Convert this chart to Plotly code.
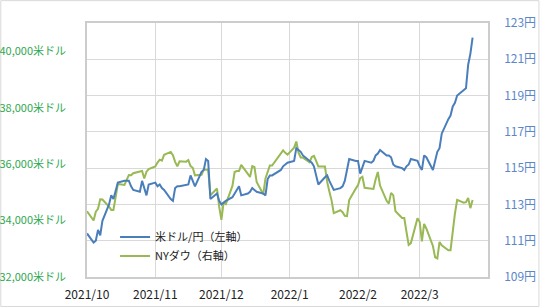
import pandas as pd
import plotly.graph_objects as go

# Trading days (weekdays) from 2021-10-01 to 2022-03-25
dates = pd.bdate_range("2021-10-01", "2022-03-25")

# USD/JPY (yen), right axis
usdjpy = [
    # Oct
    111.4, 110.9, 111.0, 111.6, 111.3, 112.1, 113.0, 113.5, 113.3, 113.7, 114.2,
    114.3, 114.3, 114.3, 114.0, 113.8, 113.7, 114.3, 113.9, 113.5, 114.1,
    # Nov
    114.2, 114.0, 114.1, 113.9, 113.8, 113.3, 113.2, 113.9, 114.0, 114.0, 114.05,
    114.1, 114.6, 114.3, 114.0, 114.8, 114.9, 115.5, 115.4, 113.3, 113.6, 113.2,
    # Dec
    113.0, 113.1, 113.2, 113.4, 113.6, 113.8, 114.0, 113.5, 113.6, 113.7, 113.9,
    113.8, 113.7, 113.6, 113.5, 114.4, 114.6, 114.6, 114.8, 114.9, 115.1, 115.2, 115.3,
    # Jan
    115.4, 116.1, 116.0, 115.9, 115.7, 115.4, 115.3, 115.1, 114.6, 114.1, 114.5,
    114.6, 114.3, 114.0, 113.8, 113.9, 114.0, 114.3, 115.0, 115.5, 115.4,
    # Feb
    115.4, 114.7, 115.0, 115.4, 115.3, 115.4, 115.7, 115.8, 116.0, 115.7, 115.7,
    115.6, 115.2, 115.1, 115.0, 114.9, 115.1, 115.2, 115.5, 115.4,
    # Mar
    115.1, 114.9, 115.7, 115.6, 114.9, 115.5, 115.9, 116.1, 116.9, 117.7, 117.9,
    118.4, 118.6, 119.0, 119.3, 119.4, 120.7, 121.3, 122.2,
]

# NY Dow (USD), left axis
nydow = [
    # Oct
    34326, 34003, 34315, 34417, 34755, 34746, 34496, 34378, 34377, 34912, 35295,
    35259, 35458, 35609, 35603, 35677, 35741, 35757, 35491, 35731, 35820,
    # Nov
    35914, 36053, 36158, 36124, 36328, 36432, 36320, 36080, 35921, 36100, 36087,
    36143, 35931, 35871, 35602, 35620, 35814, 35804, 35804, 34899, 35136, 34484,
    # Dec
    34022, 34640, 34580, 35227, 35720, 35755, 35754, 35971, 35651, 35545, 35928,
    35898, 35365, 34932, 35493, 35754, 35951, 35951, 36302, 36398, 36488, 36398, 36338,
    # Jan
    36585, 36800, 36407, 36236, 36232, 36068, 36252, 36290, 36114, 35912, 35912,
    35369, 35029, 34715, 34265, 34365, 34298, 34168, 34160, 34725, 35132,
    # Feb
    35260, 35500, 35550, 35160, 35110, 35120, 35460, 35720, 35240, 34700, 34600,
    34980, 34900, 34330, 34090, 34090, 33600, 33140, 33200, 34080,
    # Mar
    33950, 33260, 33880, 33720, 33100, 32700, 32660, 33240, 33120, 32950, 32950,
    33700, 34250, 34730, 34630, 34650, 34800, 34440, 34730,
]

assert len(dates) == len(usdjpy) == len(nydow)

month_ticks = ["2021-10-01", "2021-11-01", "2021-12-01", "2022-01-01", "2022-02-01", "2022-03-01"]
month_labels = ["2021/10", "2021/11", "2021/12", "2022/1", "2022/2", "2022/3"]
dow_ticks = [32000, 34000, 36000, 38000, 40000]
dow_labels = ["32,000米ドル", "34,000米ドル", "36,000米ドル", "38,000米ドル", "40,000米ドル"]
yen_ticks = [109, 111, 113, 115, 117, 119, 121, 123]
yen_labels = [f"{v}円" for v in yen_ticks]

BLUE = "#4a7ebb"
GREEN = "#98b954"
FONT = "Noto Sans CJK JP"

fig = go.Figure()
fig.add_trace(go.Scatter(
    x=dates, y=usdjpy, name="米ドル/円（左軸）", yaxis="y2", mode="lines",
    line=dict(color=BLUE, width=2), legendgroup="a",
))
fig.add_trace(go.Scatter(
    x=dates, y=nydow, name="NYダウ（右軸）", yaxis="y", mode="lines",
    line=dict(color=GREEN, width=2), legendgroup="b",
))

fig.update_layout(
    width=540, height=307,
    margin=dict(l=87, r=52, t=23, b=30, autoexpand=False),
    paper_bgcolor="white", plot_bgcolor="white",
    font=dict(family=FONT, size=11, color="#333333"),
    showlegend=True,
    legend=dict(
        x=0.07, y=0.215, xanchor="left", yanchor="top",
        bgcolor="rgba(255,255,255,0)", borderwidth=0,
        font=dict(family=FONT, size=11, color="#222222"),
        tracegroupgap=11, traceorder="normal",
    ),
    xaxis=dict(
        type="date", range=["2021-10-01", "2022-04-01"],
        tickvals=month_ticks, ticktext=month_labels, automargin=False,
        showgrid=True, gridcolor="#d9d9d9", gridwidth=1,
        showline=True, linecolor="#cccccc", linewidth=1.5, mirror=True,
        ticks="", tickfont=dict(family=FONT, size=12, color="#222222"),
        ticklabelstandoff=6,
    ),
    yaxis=dict(
        range=[32000, 41000], tickvals=dow_ticks, ticktext=dow_labels,
        showgrid=False, zeroline=False, automargin=False,
        showline=True, linecolor="#cccccc", linewidth=1.5,
        ticks="", tickfont=dict(family=FONT, size=11, color="#2fa84f"),
        ticklabelstandoff=17,
    ),
    yaxis2=dict(
        range=[109, 123], tickvals=yen_ticks, ticktext=yen_labels,
        overlaying="y", side="right", automargin=False,
        showgrid=True, gridcolor="#d9d9d9", gridwidth=1, zeroline=False,
        showline=True, linecolor="#cccccc", linewidth=1.5,
        ticks="", tickfont=dict(family=FONT, size=12, color="#5b87c9"),
        ticklabelstandoff=12,
    ),
    shapes=[dict(
        type="rect", xref="paper", yref="paper",
        x0=-0.215, x1=1.127, y0=-0.116, y1=1.088,
        line=dict(color="#d9d9d9", width=1), fillcolor="rgba(0,0,0,0)", layer="below",
    )],
)

fig.write_html("out.html")
